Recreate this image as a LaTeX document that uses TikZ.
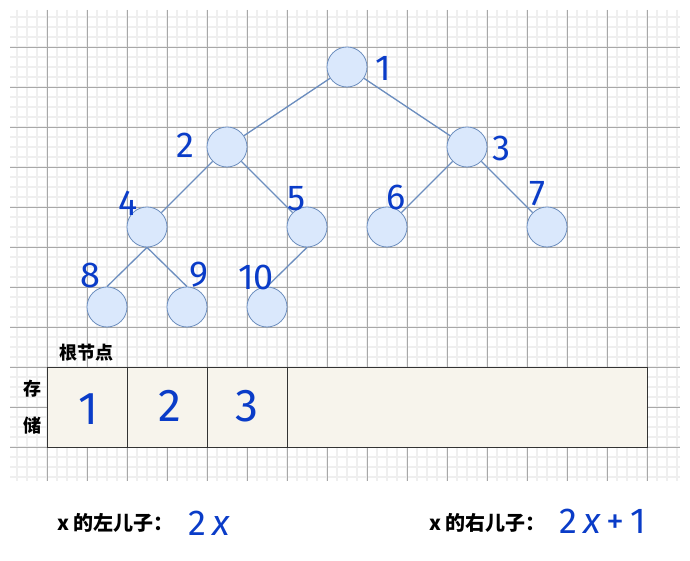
\documentclass[tikz,border=0pt]{standalone}
\usepackage{fontspec}
\setmainfont{Liberation Sans}
\newfontfamily\cjk{Noto Sans CJK SC}
\newfontfamily\hand{Fira Sans}
\definecolor{edgec}{HTML}{6C8EBF}
\definecolor{nodefill}{HTML}{DAE8FC}
\definecolor{handc}{HTML}{0A3CC8}
\definecolor{cellfill}{HTML}{F7F4EC}
\definecolor{minorc}{HTML}{EFEFEF}
\definecolor{majorc}{HTML}{A8A8A8}
\tikzset{
  tn/.style={circle, draw=edgec, fill=nodefill, minimum size=40pt, inner sep=0pt, line width=0.8pt},
  tedge/.style={draw=edgec, line width=1.3pt},
  hw/.style={text=handc, font=\hand\fontsize{36}{36}\selectfont, inner sep=0pt},
  hwbig/.style={text=handc, font=\hand\fontsize{46}{46}\selectfont, inner sep=0pt},
  cjkt/.style={font=\cjk\bfseries\fontsize{18}{18}\selectfont, inner sep=0pt},
  cjkb/.style={font=\cjk\bfseries\fontsize{20}{20}\selectfont, inner sep=0pt},
  cell/.style={draw=black!80, fill=cellfill, line width=0.9pt}
}
\begin{document}
\begin{tikzpicture}[x=1pt,y=-1pt]
\useasboundingbox (0,0) rectangle (690,561);
\fill[white] (0,0) rectangle (690,561);
% grid
\begin{scope}
\clip (10,10) rectangle (680,481);
\foreach \i in {0,...,66} { \draw[minorc, line width=1.6pt] ({17+10*\i},10) -- ({17+10*\i},481); }
\foreach \i in {0,...,46} { \draw[minorc, line width=1.6pt] (10,{17+10*\i}) -- (680,{17+10*\i}); }
\foreach \i in {0,...,15} { \draw[majorc, line width=0.8pt] ({47+40*\i},10) -- ({47+40*\i},481); }
\foreach \i in {0,...,10} { \draw[majorc, line width=0.8pt] (10,{47+40*\i}) -- (680,{47+40*\i}); }
\end{scope}
% table
\draw[cell] (47,367) rectangle (127,447);
\draw[cell] (127,367) rectangle (207,447);
\draw[cell] (207,367) rectangle (287,447);
\draw[cell] (287,367) rectangle (647,447);
\node[hwbig] (t1) at (88,409) {1};
\node[hwbig] (t2) at (170,406) {2};
\node[hwbig] (t3) at (247,406) {3};
\node[cjkt] (root) at (86,353) {根节点};
\node[cjkt] (cun) at (32,389) {存};
\node[cjkt] (chu) at (32,426) {储};
% tree
\node[tn] (n1) at (347,67) {};
\node[tn] (n2) at (227,147) {};
\node[tn] (n3) at (467,147) {};
\node[tn] (n4) at (147,227) {};
\node[tn] (n5) at (307,227) {};
\node[tn] (n6) at (387,227) {};
\node[tn] (n7) at (547,227) {};
\node[tn] (n8) at (107,307) {};
\node[tn] (n9) at (187,307) {};
\node[tn] (n10) at (267,307) {};
\draw[tedge] (n1) -- (n2);
\draw[tedge] (n1) -- (n3);
\draw[tedge] (n2) -- (n4);
\draw[tedge] (n2) -- (n5);
\draw[tedge] (n3) -- (n6);
\draw[tedge] (n3) -- (n7);
\draw[tedge] (n4.south) -- (n8.north);
\draw[tedge] (n4.south) -- (n9.north);
\draw[tedge] (n5.south) -- (n10.north);
\node[hw] (l1) at (383,68) {1};
\node[hw] (l2) at (185,145) {2};
\node[hw] (l3) at (501,148) {3};
\node[hw] (l4) at (128,203) {4};
\node[hw] (l5) at (297,199) {5};
\node[hw] (l6) at (396,197) {6};
\node[hw] (l7) at (537,194) {7};
\node[hw] (l8) at (90,275) {8};
\node[hw] (l9) at (199,275) {9};
\node[hw] (l10) at (256,277) {10};
% bottom formulas
\node[cjkb, anchor=west] (left) at (57,523) {x 的左儿子：};
\node[hw, anchor=west] (lf) at (188,523) {2\,\textit{x}};
\node[cjkb, anchor=west] (right) at (429,523) {x 的右儿子：};
\node[hw, anchor=west] (rf) at (559,521) {2\,\textit{x}\,+\,1};
\end{tikzpicture}
\end{document}
